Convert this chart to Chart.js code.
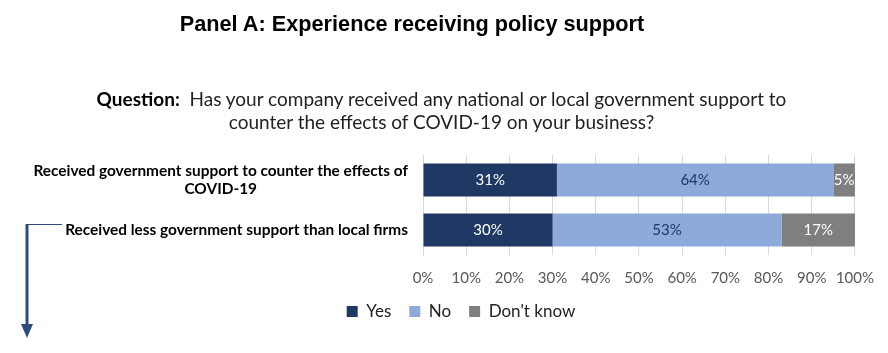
<!DOCTYPE html>
<html>
<head>
<meta charset="utf-8">
<script src="https://cdn.jsdelivr.net/npm/chart.js@4.4.1/dist/chart.umd.min.js"></script>
<style>
  html, body { margin: 0; padding: 0; background: #fff; }
  #wrap { position: relative; width: 888px; height: 353px; overflow: hidden; }
  #chart { position: absolute; left: 0; top: 0; }
  .panel-title { position: absolute; left: 0; top: 11px; width: 824px; text-align: center;
    font: bold 21.7px "Liberation Sans", Arial, sans-serif; color: #000; }
  .question { position: absolute; left: 0; top: 87px; width: 883px; text-align: center;
    font: 19px Lato, sans-serif; color: #222; line-height: 23px; }
  .question b { font-weight: bold; color: #000; }
</style>
</head>
<body>
<div id="wrap">
  <canvas id="chart" width="888" height="353"></canvas>
  <div class="panel-title">Panel A: Experience receiving policy support</div>
  <div class="question"><b>Question:</b>&nbsp; Has your company received any national or local government support to<br>counter the effects of COVID-19 on your business?</div>
</div>
<script>
  // values
  const categories = [
    ["Received government support to counter the effects of", "COVID-19"],
    ["Received less government support than local firms"]
  ];
  const seriesNames = ["Yes", "No", "Don't know"];
  const yesValues = [31, 30];
  const noValues = [64, 53];
  const dontKnowValues = [5, 17];
  const tickLabels = ["0%", "10%", "20%", "30%", "40%", "50%", "60%", "70%", "80%", "90%", "100%"];

  const colors = ["#1f3864", "#8eaadb", "#7f7f7f"];
  const labelColors = ["#ffffff", "#1f3864", "#ffffff"];

  // category labels: right aligned, extra lines centred under the first
  const catLabels = {
    id: "catLabels",
    afterDraw(chart) {
      const ctx = chart.ctx;
      const y = chart.scales.y;
      const right = chart.chartArea.left - 15;
      ctx.save();
      ctx.font = "bold 15.4px Lato, sans-serif";
      ctx.fillStyle = "#000";
      ctx.textAlign = "center";
      ctx.textBaseline = "middle";
      categories.forEach((lines, i) => {
        const w = Math.max(...lines.map(l => ctx.measureText(l).width));
        const cx = right - w / 2;
        const cy = y.getPixelForValue(i);
        const lh = 18;
        lines.forEach((l, j) => {
          ctx.fillText(l, cx, cy + (j - (lines.length - 1) / 2) * lh);
        });
      });
      ctx.restore();
    }
  };

  // value labels inside the bars
  const valueLabels = {
    id: "valueLabels",
    afterDatasetsDraw(chart) {
      const ctx = chart.ctx;
      ctx.save();
      ctx.font = "15px Lato, sans-serif";
      ctx.textAlign = "center";
      ctx.textBaseline = "middle";
      chart.data.datasets.forEach((ds, di) => {
        chart.getDatasetMeta(di).data.forEach((bar, i) => {
          const x = (bar.x + bar.base) / 2;
          ctx.fillStyle = labelColors[di];
          ctx.fillText(ds.data[i] + "%", x, bar.y);
        });
      });
      ctx.restore();
    }
  };

  // the bent arrow on the left
  const arrow = {
    id: "arrow",
    afterDraw(chart) {
      const ctx = chart.ctx;
      ctx.save();
      ctx.strokeStyle = "#2f4b7c";
      ctx.fillStyle = "#2f4b7c";
      ctx.lineWidth = 1;
      ctx.beginPath();
      ctx.moveTo(62, 224.5);
      ctx.lineTo(26, 224.5);
      ctx.stroke();
      ctx.lineWidth = 3;
      ctx.beginPath();
      ctx.moveTo(27, 224);
      ctx.lineTo(27, 326);
      ctx.stroke();
      ctx.beginPath();
      ctx.moveTo(21, 324);
      ctx.lineTo(33, 324);
      ctx.lineTo(27, 338);
      ctx.closePath();
      ctx.fill();
      ctx.restore();
    }
  };

  // x tick labels sit closer to the legend than the layout allows,
  // so the axis is squeezed in afterFit and its clip box reopened here
  const unclipTicks = {
    id: "unclipTicks",
    afterLayout(chart) {
      const x = chart.scales.x;
      x.bottom = x.top + 40;
    }
  };

  const ctx = document.getElementById("chart").getContext("2d");
  new Chart(ctx, {
    type: "bar",
    data: {
      labels: categories,
      datasets: [
        { label: seriesNames[0], data: yesValues, backgroundColor: colors[0] },
        { label: seriesNames[1], data: noValues, backgroundColor: colors[1] },
        { label: seriesNames[2], data: dontKnowValues, backgroundColor: colors[2] }
      ]
    },
    options: {
      indexAxis: "y",
      responsive: false,
      animation: false,
      layout: { padding: { left: 66, right: 32, top: 155, bottom: 23 } },
      datasets: { bar: { barPercentage: 0.66, categoryPercentage: 1 } },
      scales: {
        x: {
          stacked: true,
          min: 0, max: 100,
          ticks: {
            stepSize: 10,
            autoSkip: false,
            maxRotation: 0,
            minRotation: 0,
            color: "#595959",
            font: { family: "Lato", size: 15 },
            padding: 14,
            callback: (v, i) => tickLabels[i]
          },
          grid: { color: "#d9d9d9", drawTicks: false },
          border: { display: false },
          afterFit(scale) { scale.height = 30; }
        },
        y: {
          stacked: true,
          ticks: { display: false },
          grid: { display: false },
          border: { display: true, color: "#d9d9d9" },
          afterFit(scale) { scale.width = 357; }
        }
      },
      plugins: {
        tooltip: { enabled: false },
        legend: {
          position: "bottom",
          labels: {
            color: "#222",
            font: { family: "Lato", size: 17 },
            boxWidth: 11, boxHeight: 11,
            padding: 18
          }
        }
      }
    },
    plugins: [catLabels, valueLabels, arrow, unclipTicks]
  });
</script>
</body>
</html>
